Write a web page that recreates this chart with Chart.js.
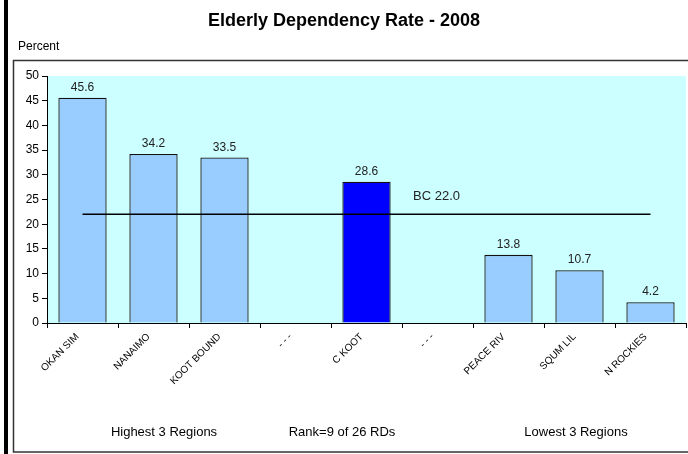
<!DOCTYPE html>
<html>
<head>
<meta charset="utf-8">
<style>
  html, body { margin: 0; padding: 0; background: #ffffff; }
  #wrap { width: 688px; height: 454px; position: relative; }
</style>
<script src="https://cdn.jsdelivr.net/npm/chart.js@4.4.1/dist/chart.umd.min.js"></script>
</head>
<body>
<div id="wrap"><canvas id="c" width="688" height="454"></canvas></div>
<script>
// ---- data ----
const titleText = 'Elderly Dependency Rate - 2008';
const yAxisTitle = 'Percent';
const categories = ['OKAN SIM', 'NANAIMO', 'KOOT BOUND', '- - -', 'C KOOT', '- - -', 'PEACE RIV', 'SQUM LIL', 'N ROCKIES'];
const rates = [45.6, 34.2, 33.5, null, 28.6, null, 13.8, 10.7, 4.2];
const highlightIndex = 4;
const bcRate = 22.0;
const bcLabel = 'BC 22.0';
const yTicks = { min: 0, max: 50, step: 5 };
const footNotes = ['Highest 3 Regions', 'Rank=9 of 26 RDs', 'Lowest 3 Regions'];

const bcLine = categories.map(() => bcRate);
const barColors = categories.map((c, i) => i === highlightIndex ? '#0000FF' : '#99CCFF');

const FONT = 'Arial, "Liberation Sans", Helvetica, sans-serif';

const decor = {
  id: 'decor',
  beforeDraw(chart) {
    const ctx = chart.ctx;
    const a = chart.chartArea;
    ctx.save();
    ctx.fillStyle = '#ffffff';
    ctx.fillRect(0, 0, chart.width, chart.height);
    // thick left bar
    ctx.fillStyle = '#000000';
    ctx.fillRect(4, 0, 4, chart.height);
    // frame
    ctx.strokeStyle = '#333333';
    ctx.lineWidth = 1.5;
    ctx.strokeRect(13.5, 60.5, 680, 391.5);
    // plot background
    ctx.fillStyle = '#CCFFFF';
    ctx.fillRect(a.left, a.top, a.right - a.left, a.bottom - a.top);
    ctx.restore();
  },
  afterDatasetsDraw(chart) {
    const ctx = chart.ctx;
    const meta = chart.getDatasetMeta(1);
    ctx.save();
    ctx.font = '12px ' + FONT;
    ctx.fillStyle = '#222222';
    ctx.textAlign = 'center';
    ctx.textBaseline = 'alphabetic';
    meta.data.forEach((bar, i) => {
      const v = rates[i];
      if (v === null || v === undefined) return;
      ctx.fillText(v.toFixed(1), bar.x, bar.y - 7);
    });
    // BC label
    const xs = chart.scales.x, ys = chart.scales.y;
    ctx.font = '13px ' + FONT;
    ctx.fillText(bcLabel, xs.getPixelForValue(5) - 1, ys.getPixelForValue(bcRate) - 14);
    ctx.restore();
  },
  afterDraw(chart) {
    const ctx = chart.ctx;
    ctx.save();
    ctx.fillStyle = '#000000';
    ctx.textAlign = 'center';
    ctx.textBaseline = 'middle';
    ctx.font = 'bold 18px ' + FONT;
    ctx.fillText(titleText, 344, 21);
    ctx.textAlign = 'left';
    ctx.font = '12px ' + FONT;
    ctx.fillText(yAxisTitle, 18, 47);
    ctx.textAlign = 'center';
    ctx.font = '13px ' + FONT;
    ctx.fillText(footNotes[0], 164, 432);
    ctx.fillText(footNotes[1], 342, 432);
    ctx.fillText(footNotes[2], 576, 432);
    ctx.restore();
  }
};

new Chart(document.getElementById('c'), {
  data: {
    labels: categories,
    datasets: [
      {
        type: 'line',
        label: 'BC',
        data: bcLine,
        borderColor: '#000000',
        borderWidth: 1.5,
        pointRadius: 0,
        fill: false,
        order: 0
      },
      {
        type: 'bar',
        label: 'Elderly Dependency Rate',
        data: rates,
        backgroundColor: barColors,
        borderColor: '#111111',
        borderWidth: 1.3,
        categoryPercentage: 1.0,
        barPercentage: 0.68,
        order: 1
      }
    ]
  },
  options: {
    responsive: false,
    animation: false,
    devicePixelRatio: 1,
    layout: { padding: { left: 0, right: 2, top: 76, bottom: 0 } },
    plugins: {
      legend: { display: false },
      title: { display: false },
      tooltip: { enabled: false }
    },
    scales: {
      x: {
        offset: true,
        grid: { offset: true, drawOnChartArea: false, drawTicks: true, tickLength: 5, color: '#000000' },
        border: { display: true, color: '#000000', width: 1 },
        ticks: {
          minRotation: 45, maxRotation: 45, autoSkip: false,
          color: '#000000', font: { family: FONT, size: 10 }, padding: 3, labelOffset: -5
        },
        afterFit(scale) { scale.height = 131; scale.paddingLeft = 0; scale.paddingRight = 0; }
      },
      y: {
        min: yTicks.min, max: yTicks.max,
        grid: { drawOnChartArea: false, drawTicks: true, tickLength: 5, color: '#000000' },
        border: { display: true, color: '#000000', width: 1 },
        ticks: { stepSize: yTicks.step, color: '#000000', font: { family: FONT, size: 12 }, padding: 3 },
        afterFit(scale) { scale.width = 47; }
      }
    }
  },
  plugins: [decor]
});
</script>
</body>
</html>
